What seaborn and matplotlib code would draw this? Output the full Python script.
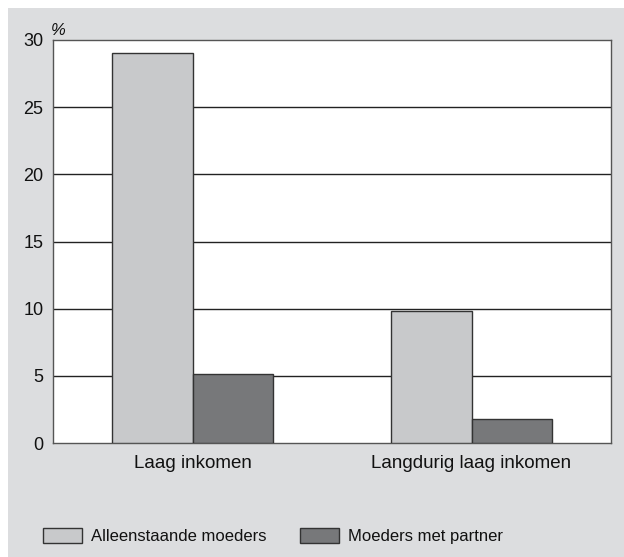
import pandas as pd
import seaborn as sns
import matplotlib.pyplot as plt
from matplotlib.patches import Rectangle, Patch

categories = ['Laag inkomen', 'Langdurig laag inkomen']
groups = ['Alleenstaande moeders', 'Moeders met partner']
alleenstaand = [29.0, 9.8]
met_partner = [5.1, 1.8]
yticks = [0, 5, 10, 15, 20, 25, 30]

data = pd.DataFrame({
    'categorie': categories * 2,
    'groep': [groups[0]] * 2 + [groups[1]] * 2,
    'waarde': alleenstaand + met_partner,
})

bg = '#dcdddf'
colors = ['#c8c9cb', '#77787a']
txt = '#111111'

sns.set_style('white')
plt.rcParams['font.family'] = ['Liberation Sans', 'DejaVu Sans']

fig = plt.figure(figsize=(6.24, 5.57), dpi=100, facecolor='white')
fig.patches.append(Rectangle((8 / 624, 0), 1, 549 / 557, transform=fig.transFigure,
                             facecolor=bg, edgecolor='none', zorder=-10))
ax = fig.add_axes([53 / 624, 1 - 443 / 557, 558 / 624, 403 / 557])

sns.barplot(data=data, x='categorie', y='waarde', hue='groep', hue_order=groups,
            palette=colors, width=0.575, edgecolor='#333333', linewidth=1,
            saturation=1, legend=False, ax=ax, zorder=3)

ax.set_ylim(0, 30)
ax.set_yticks(yticks)
ax.set_yticklabels([str(t) for t in yticks], fontsize=13, color=txt)
ax.tick_params(axis='x', labelsize=13.5, colors=txt, length=0, pad=9)
ax.tick_params(axis='y', length=0, pad=7)
ax.set_xlabel('')
ax.set_ylabel('')
ax.set_xlim(-0.5, 1.5)
for y in yticks[1:-1]:
    ax.axhline(y, color='#222222', linewidth=1, zorder=1)
for s in ax.spines.values():
    s.set_color('#555555')
    s.set_linewidth(1)
ax.set_facecolor('white')

fig.text(51 / 624, 1 - 35 / 557, '%', fontsize=12, style='italic', color=txt)

handles = [Patch(facecolor=c, edgecolor='#333333', linewidth=1) for c in colors]
fig.legend(handles, groups, loc='center left', bbox_to_anchor=(43 / 624, 1 - 536 / 557),
           ncol=2, frameon=False, fontsize=12, handlelength=2.34, handleheight=1.02,
           columnspacing=2.0, handletextpad=0.54, borderpad=0, borderaxespad=0,
           labelcolor=txt)

fig.savefig('out.png', dpi=100, facecolor=fig.get_facecolor())
